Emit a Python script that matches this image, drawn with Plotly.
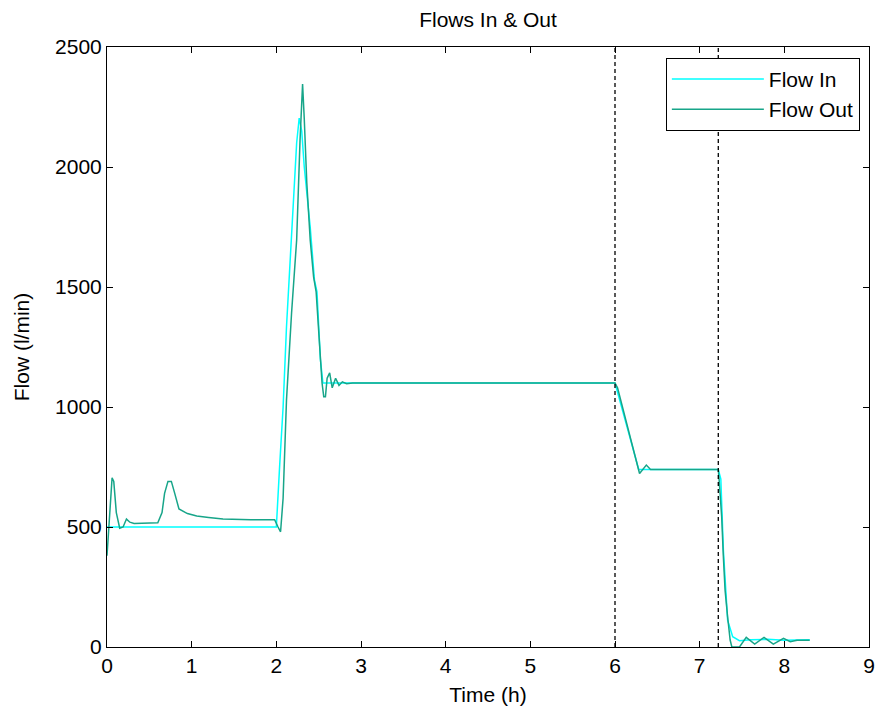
import plotly.graph_objects as go

# Flow In (l/min) vs time (h)
t_in = [0.0, 2.0, 2.04, 2.08, 2.12, 2.16, 2.20, 2.24, 2.27, 2.30, 2.33, 2.36, 2.40,
        2.45, 2.48, 2.52, 2.55, 6.0, 6.28, 7.22, 7.25, 7.28, 7.31, 7.33, 7.39,
        7.47, 7.6, 7.8, 8.0, 8.3]
flow_in = [500, 500, 760, 1000, 1333, 1583, 1862, 2100, 2204, 2150, 2000, 1900, 1750,
           1530, 1480, 1200, 1100, 1100, 740, 740, 700, 404, 237, 112, 43,
           26, 30, 32, 28, 30]

# Flow Out (l/min) vs time (h)
t_out = [0.0, 0.03, 0.06, 0.08, 0.11, 0.15, 0.19, 0.23, 0.27, 0.32, 0.5, 0.6, 0.65,
         0.68, 0.72, 0.76, 0.8, 0.85, 0.95, 1.06, 1.2, 1.37, 1.7, 1.98, 2.02, 2.05,
         2.08, 2.12, 2.18, 2.24, 2.28, 2.31, 2.33, 2.36, 2.40, 2.44, 2.47, 2.52,
         2.54, 2.56, 2.58, 2.60, 2.63, 2.66, 2.70, 2.74, 2.78, 2.83, 2.9, 6.0,
         6.03, 6.29, 6.33, 6.37, 6.42, 7.22, 7.23, 7.26, 7.28, 7.30, 7.33, 7.36,
         7.38, 7.47, 7.55, 7.65, 7.76, 7.87, 7.99, 8.07, 8.15, 8.3]
flow_out = [380, 560, 705, 690, 560, 495, 500, 533, 520, 515, 515, 518, 560,
            640, 690, 690, 640, 575, 556, 546, 540, 533, 530, 530, 500, 480,
            620, 1029, 1392, 1696, 2112, 2346, 2200, 1933, 1696, 1542, 1480, 1196,
            1100, 1043, 1043, 1120, 1142, 1080, 1120, 1090, 1105, 1097, 1100, 1100,
            1080, 723, 740, 758, 740, 740, 696, 543, 376, 237, 126, 29,
            0, 0, 40, 12, 40, 12, 36, 22, 28, 28]

event_times = [6.0, 7.22]
x_ticks = [0, 1, 2, 3, 4, 5, 6, 7, 8, 9]
y_ticks = [0, 500, 1000, 1500, 2000, 2500]

FONT = "Liberation Sans, Arial, sans-serif"
FS = 21

fig = go.Figure()
fig.add_trace(go.Scatter(x=t_in, y=flow_in, mode="lines", name="Flow In",
                         line=dict(color="#00FFFF", width=1.5)))
fig.add_trace(go.Scatter(x=t_out, y=flow_out, mode="lines", name="Flow Out",
                         line=dict(color="#17A589", width=1.5)))

for te in event_times:
    fig.add_shape(type="line", x0=te, x1=te, y0=0, y1=1, xref="x", yref="paper",
                  line=dict(color="black", width=1.3, dash="4px,3px"))

axis_common = dict(showline=True, linecolor="black", linewidth=1, mirror="ticks",
                   ticks="inside", ticklen=6, tickcolor="black", showgrid=False,
                   zeroline=False, automargin=False,
                   tickfont=dict(family=FONT, size=FS, color="black"))

fig.update_layout(
    width=877, height=713,
    margin=dict(l=107, r=8, t=47, b=66),
    paper_bgcolor="white", plot_bgcolor="white",
    title=dict(text="Flows In & Out", x=(107 + 869) / 2 / 877, xanchor="center",
               y=1 - 20 / 713, yanchor="middle",
               font=dict(family=FONT, size=FS, color="black")),
    xaxis=dict(range=[0, 9], tickvals=x_ticks, **axis_common,
               title=dict(text="Time (h)", font=dict(family=FONT, size=FS, color="black"),
                          standoff=11)),
    yaxis=dict(range=[0, 2500], tickvals=y_ticks, **axis_common,
               title=dict(text="Flow (l/min)", font=dict(family=FONT, size=FS, color="black"),
                          standoff=19)),
    legend=dict(x=0.988, y=0.982, xanchor="right", yanchor="top",
                bgcolor="white", bordercolor="black", borderwidth=1,
                font=dict(family=FONT, size=FS, color="black"),
                itemwidth=92, tracegroupgap=0),
    showlegend=True,
)

fig.write_html("out.html")
